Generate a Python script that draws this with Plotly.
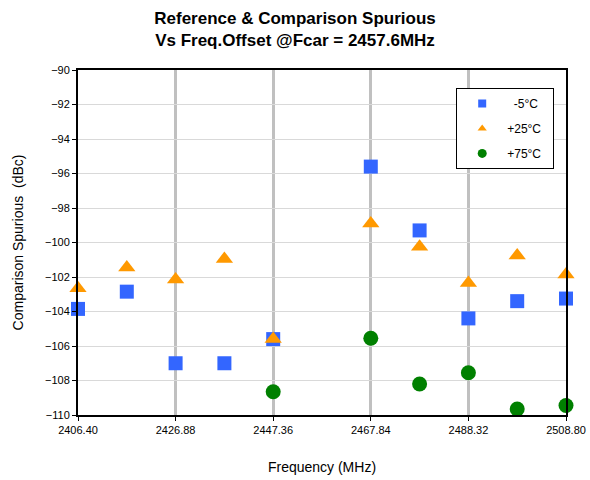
import plotly.graph_objects as go

# frequency offsets (MHz) and measured spurious levels (dBc)
freq = [2406.40, 2416.64, 2426.88, 2437.12, 2447.36, 2467.84, 2478.08, 2488.32, 2498.56, 2508.80]
minus5 = [-103.85, -102.85, -107.0, -107.0, -105.6, -95.6, -99.3, -104.4, -103.4, -103.25]
plus25 = [-102.65, -101.45, -102.15, -100.95, -105.6, -98.9, -100.25, -102.35, -100.75, -101.85]

freq75 = [2447.36, 2467.84, 2478.08, 2488.32, 2498.56, 2508.80]
plus75 = [-108.65, -105.55, -108.2, -107.55, -109.65, -109.45]

xticks = [2406.40, 2426.88, 2447.36, 2467.84, 2488.32, 2508.80]

font = "Liberation Sans, Arial, sans-serif"

series = [
    ('  -5°C  ', freq, minus5, 'square', 14, 8, '#3366FF'),
    ('+25°C  ', freq, plus25, 'triangle-up', 15, 8, '#FF9900'),
    ('+75°C  ', freq75, plus75, 'circle', 15, 9, '#008000'),
]

fig = go.Figure()
for i, (name, xs, ys, sym, size, lsize, col) in enumerate(series):
    fig.add_trace(go.Scatter(x=xs, y=ys, mode='markers', name=name, showlegend=False,
                             cliponaxis=False, hoverinfo='skip',
                             marker=dict(symbol=sym, size=size, color=col)))
    # small marker only for the legend key
    fig.add_trace(go.Scatter(x=[None], y=[None], mode='markers', name=name,
                             legendgroup=str(i),
                             marker=dict(symbol=sym, size=lsize, color=col)))

fig.update_layout(
    width=590, height=480,
    margin=dict(l=78, r=24, t=70, b=65),
    paper_bgcolor='white', plot_bgcolor='white',
    font=dict(family=font, size=12, color='black'),
    title=dict(text='<b>Reference & Comparison Spurious<br>Vs Freq.Offset @Fcar = 2457.6MHz</b>',
               x=0.5, xanchor='center', y=0.95, yanchor='middle',
               font=dict(size=17, family=font)),
    legend=dict(x=0.775, y=0.948, xanchor='left', yanchor='top',
                bordercolor='black', borderwidth=1, bgcolor='white',
                itemsizing='trace', tracegroupgap=6,
                font=dict(size=12), itemwidth=40),
    showlegend=True,
)
fig.update_xaxes(range=[2406.40, 2508.80], tickvals=xticks,
                 ticktext=['%.2f' % v for v in xticks],
                 showgrid=True, gridcolor='#C0C0C0', gridwidth=3,
                 showline=True, linecolor='black', linewidth=2, mirror=True,
                 ticks='outside', ticklen=4, tickcolor='black',
                 tickfont=dict(size=11), automargin=False,
                 title=dict(text='Frequency (MHz)', font=dict(size=14), standoff=27),
                 zeroline=False)
fig.update_yaxes(range=[-110, -90], dtick=2,
                 showgrid=True, gridcolor='#D9D9D9', gridwidth=1,
                 showline=True, linecolor='black', linewidth=2, mirror=True,
                 ticks='outside', ticklen=4, tickcolor='black',
                 tickfont=dict(size=11), automargin=False,
                 title=dict(text='Comparison Spurious  (dBc)', font=dict(size=14), standoff=18),
                 zeroline=False)

# the page's default body margin would shift the chart, so drop it
fig.write_html("out.html", config={'displayModeBar': False},
               post_script="document.body.style.margin='0px';")
